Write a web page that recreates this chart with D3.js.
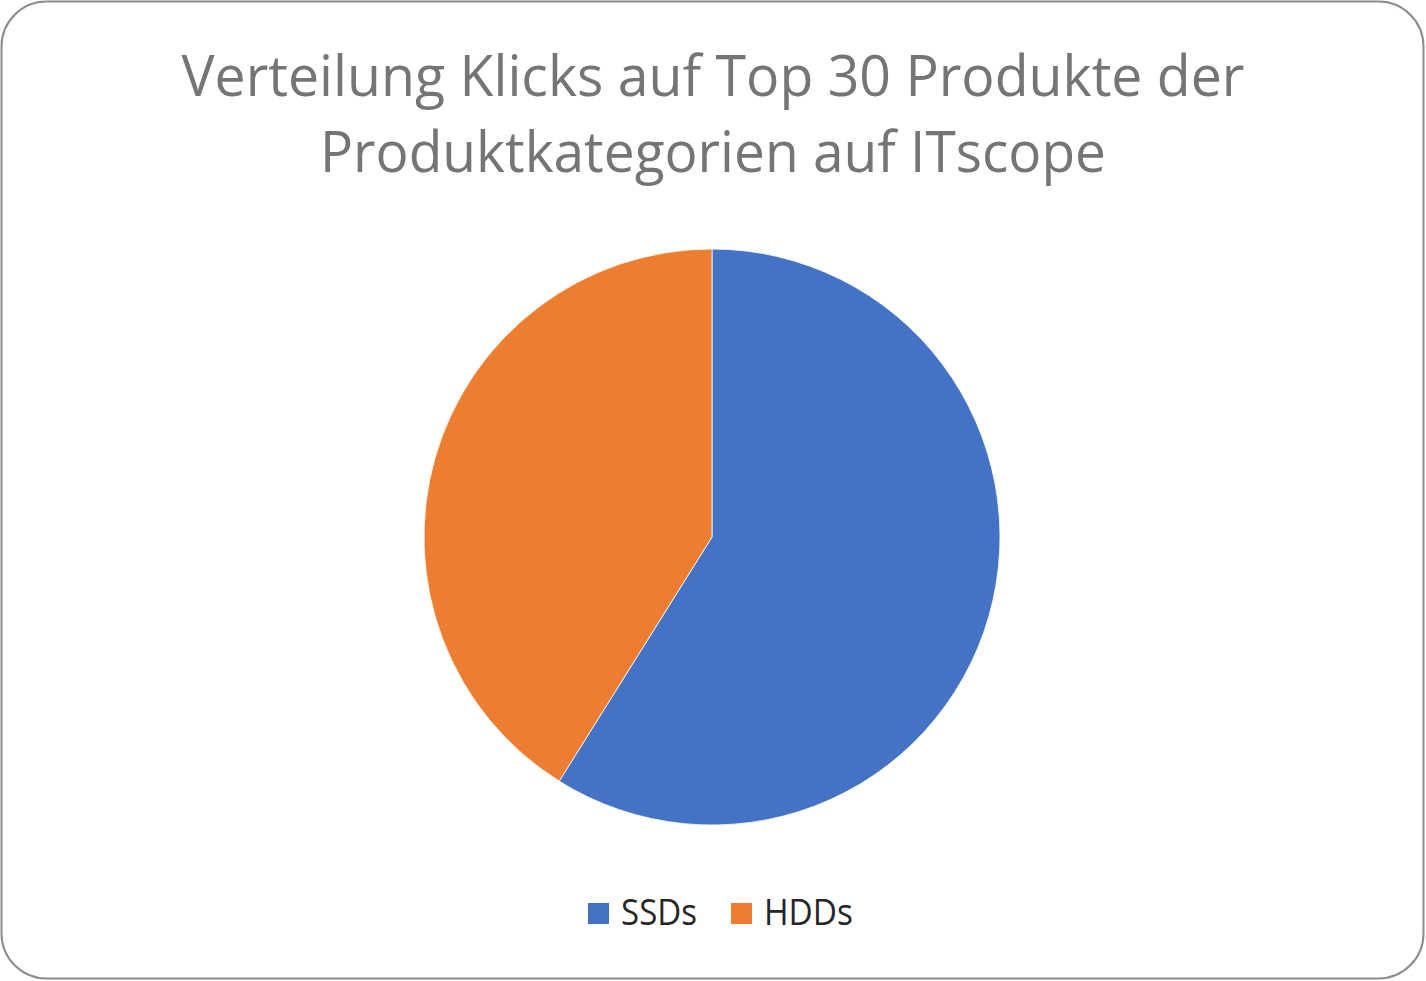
<!DOCTYPE html>
<html><head><meta charset="utf-8">
<script src="https://cdn.jsdelivr.net/npm/d3@7"></script>
<style>html,body{margin:0;padding:0;background:#fff;}svg{display:block;}</style>
</head><body>
<script>
const categories = ["SSDs", "HDDs"];
const values = [58.9, 41.1];
const colors = ["#4472C4", "#ED7D31"];
const titleLines = ["Verteilung Klicks auf Top 30 Produkte der", "Produktkategorien auf ITscope"];

const W = 1426, H = 981;
const svg = d3.select("body").append("svg").attr("width", W).attr("height", H);

svg.append("rect").attr("x", 1.5).attr("y", 1.5).attr("width", W - 4).attr("height", H - 4)
  .attr("rx", 45).attr("ry", 45).attr("fill", "#fff").attr("stroke", "#8c8c8c").attr("stroke-width", 2);

const titleLens = [1063, 786];
const titleY = [96, 172];
svg.selectAll("text.title").data(titleLines).enter().append("text")
  .attr("class", "title")
  .attr("x", 713).attr("y", (d, i) => titleY[i])
  .attr("text-anchor", "middle")
  .attr("font-family", "'Open Sans', sans-serif")
  .attr("font-size", 57)
  .attr("fill", "#757575")
  .attr("textLength", (d, i) => titleLens[i])
  .attr("lengthAdjust", "spacingAndGlyphs")
  .text(d => d);

const cx = 712, cy = 537, r = 288;
const pie = d3.pie().sort(null).value(d => d.v);
const data = categories.map((c, i) => ({c, v: values[i], col: colors[i]}));
const arc = d3.arc().innerRadius(0).outerRadius(r);
const g = svg.append("g").attr("transform", `translate(${cx},${cy})`);
g.selectAll("path").data(pie(data)).enter().append("path")
  .attr("d", arc).attr("fill", d => d.data.col)
  .attr("stroke", "#fff").attr("stroke-width", 0.8);

const legX = [588, 731];
const legTextLen = [76, 89];
const lg = svg.append("g");
data.forEach((d, i) => {
  lg.append("rect").attr("x", legX[i]).attr("y", 903).attr("width", 21).attr("height", 21).attr("fill", d.col);
  lg.append("text").attr("x", legX[i] + 33).attr("y", 925)
    .attr("font-family", "'Open Sans', sans-serif").attr("font-size", 36)
    .attr("fill", "#262626")
    .attr("textLength", legTextLen[i]).attr("lengthAdjust", "spacingAndGlyphs")
    .text(d.c);
});
</script>
</body></html>
